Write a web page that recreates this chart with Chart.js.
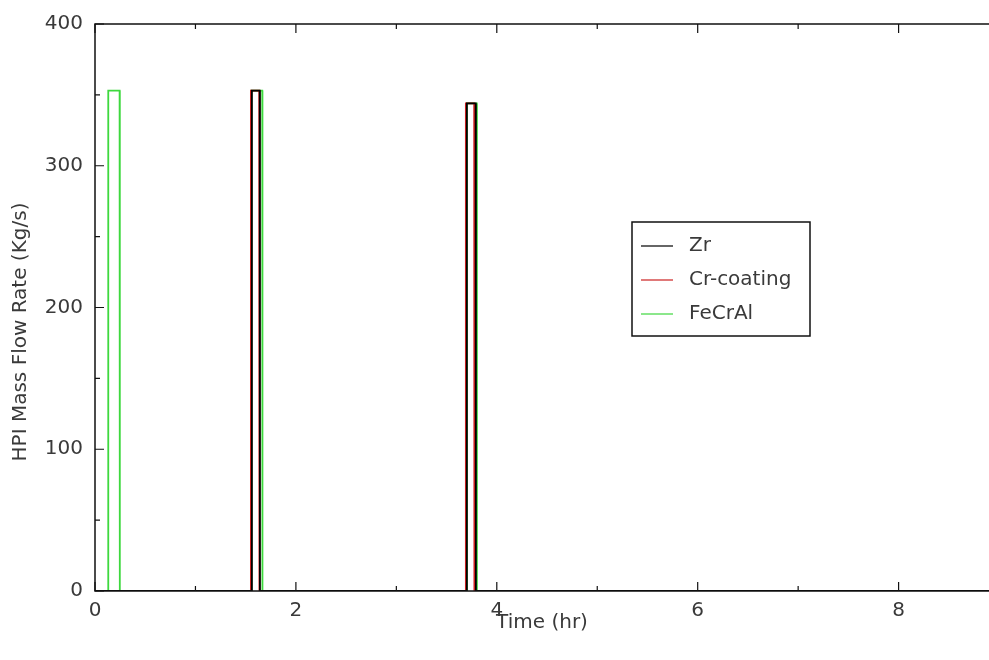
<!DOCTYPE html>
<html>
<head>
<meta charset="utf-8">
<script src="https://cdn.jsdelivr.net/npm/chart.js@4/dist/chart.umd.min.js"></script>
<style>
html,body{margin:0;padding:0;background:#fff;}
#wrap{width:989px;height:660px;position:relative;}
</style>
</head>
<body>
<div id="wrap"><canvas id="c" width="989" height="660"></canvas></div>
<script>
const seriesNames = ["Zr", "Cr-coating", "FeCrAl"];
const seriesColors = ["#000000", "#cc2020", "#3ed83e"];

const zrTime = [0, 1.56, 1.562, 1.64, 1.642, 3.70, 3.702, 3.79, 3.792, 10];
const zrFlow = [0, 0, 353, 353, 0, 0, 344, 344, 0, 0];

const crTime = [0, 1.55, 1.552, 1.635, 1.637, 3.69, 3.692, 3.775, 3.777, 10];
const crFlow = [0, 0, 353, 353, 0, 0, 344, 344, 0, 0];

const fecralTime = [0, 0.13, 0.132, 0.245, 0.247, 1.555, 1.557, 1.665, 1.667, 3.70, 3.702, 3.80, 3.802, 10];
const fecralFlow = [0, 0, 353, 353, 0, 0, 353, 353, 0, 0, 344, 344, 0, 0];

const xTicks = [0, 2, 4, 6, 8];
const yTicks = [0, 100, 200, 300, 400];

function pts(xs, ys){ return xs.map((x,i)=>({x:x, y:ys[i]})); }

const FONT = "'DejaVu Sans', sans-serif";
const TXT = '#3a3a3a';

const frame = {
  id: 'frame',
  afterDraw(chart){
    const ctx = chart.ctx, a = chart.chartArea;
    const xs = chart.scales.x, ys = chart.scales.y;
    ctx.save();
    ctx.strokeStyle = '#111';
    ctx.lineWidth = 1.5;
    ctx.beginPath();
    ctx.moveTo(a.right, a.top); ctx.lineTo(a.left, a.top);
    ctx.lineTo(a.left, a.bottom); ctx.lineTo(a.right, a.bottom);
    ctx.stroke();
    ctx.lineWidth = 1.2;
    ctx.beginPath();
    for (let v = 0; v <= 10; v += 1) {
      const px = xs.getPixelForValue(v);
      if (px > a.right) continue;
      const len = (v % 2 === 0) ? 9 : 5;
      ctx.moveTo(px, a.bottom); ctx.lineTo(px, a.bottom - len);
      ctx.moveTo(px, a.top); ctx.lineTo(px, a.top + len);
    }
    for (let v = 0; v <= 400; v += 50) {
      const py = ys.getPixelForValue(v);
      const len = (v % 100 === 0) ? 9 : 5;
      ctx.moveTo(a.left, py); ctx.lineTo(a.left + len, py);
    }
    ctx.stroke();
    // y title
    ctx.fillStyle = TXT;
    ctx.font = "20px " + FONT;
    ctx.textAlign = 'center';
    ctx.textBaseline = 'middle';
    ctx.translate(21, 332);
    ctx.rotate(-Math.PI/2);
    ctx.fillText('HPI Mass Flow Rate (Kg/s)', 0, 0);
    ctx.restore();

    // legend box
    ctx.save();
    const bx = 632, by = 222, bw = 178, bh = 114;
    ctx.fillStyle = '#fff';
    ctx.fillRect(bx, by, bw, bh);
    ctx.strokeStyle = '#111';
    ctx.lineWidth = 1.5;
    ctx.strokeRect(bx, by, bw, bh);
    ctx.font = "20px " + FONT;
    ctx.textAlign = 'left';
    ctx.textBaseline = 'middle';
    chart.data.datasets.forEach((ds, i) => {
      const cy = by + 24 + i * 34;
      ctx.strokeStyle = ds.borderColor;
      ctx.lineWidth = 1.2;
      ctx.beginPath();
      ctx.moveTo(641, cy); ctx.lineTo(673, cy);
      ctx.stroke();
      ctx.fillStyle = TXT;
      ctx.fillText(ds.label, 689, cy);
    });
    ctx.restore();
  }
};

new Chart(document.getElementById('c'), {
  type: 'scatter',
  data: {
    datasets: [
      {label: seriesNames[0], data: pts(zrTime, zrFlow), borderColor: seriesColors[0], showLine: true, pointRadius: 0, borderWidth: 1.8, order: 1},
      {label: seriesNames[1], data: pts(crTime, crFlow), borderColor: seriesColors[1], showLine: true, pointRadius: 0, borderWidth: 1.8, order: 2},
      {label: seriesNames[2], data: pts(fecralTime, fecralFlow), borderColor: seriesColors[2], showLine: true, pointRadius: 0, borderWidth: 1.8, order: 3}
    ]
  },
  options: {
    responsive: false,
    animation: false,
    layout: {padding: {top: 19, right: 0, left: 0, bottom: 0}},
    plugins: {legend: {display: false}, tooltip: {enabled: false}},
    scales: {
      x: {
        type: 'linear', min: 0, max: 8.9,
        grid: {display: false, drawTicks: false},
        border: {display: false},
        afterBuildTicks: s => { s.ticks = xTicks.map(v => ({value: v})); },
        ticks: {color: TXT, font: {family: FONT, size: 20}, padding: 8, maxRotation: 0, autoSkip: false},
        title: {display: true, text: 'Time (hr)', color: TXT, font: {family: FONT, size: 20}, padding: {top: 0, bottom: 25}},
        afterFit: s => { s.height = 69; }
      },
      y: {
        type: 'linear', min: 0, max: 400,
        grid: {display: false, drawTicks: false},
        border: {display: false},
        afterBuildTicks: s => { s.ticks = yTicks.map(v => ({value: v})); },
        ticks: {color: TXT, font: {family: FONT, size: 20}, padding: 12},
        afterFit: s => { s.width = 95; }
      }
    }
  },
  plugins: [frame]
});
</script>
</body>
</html>
